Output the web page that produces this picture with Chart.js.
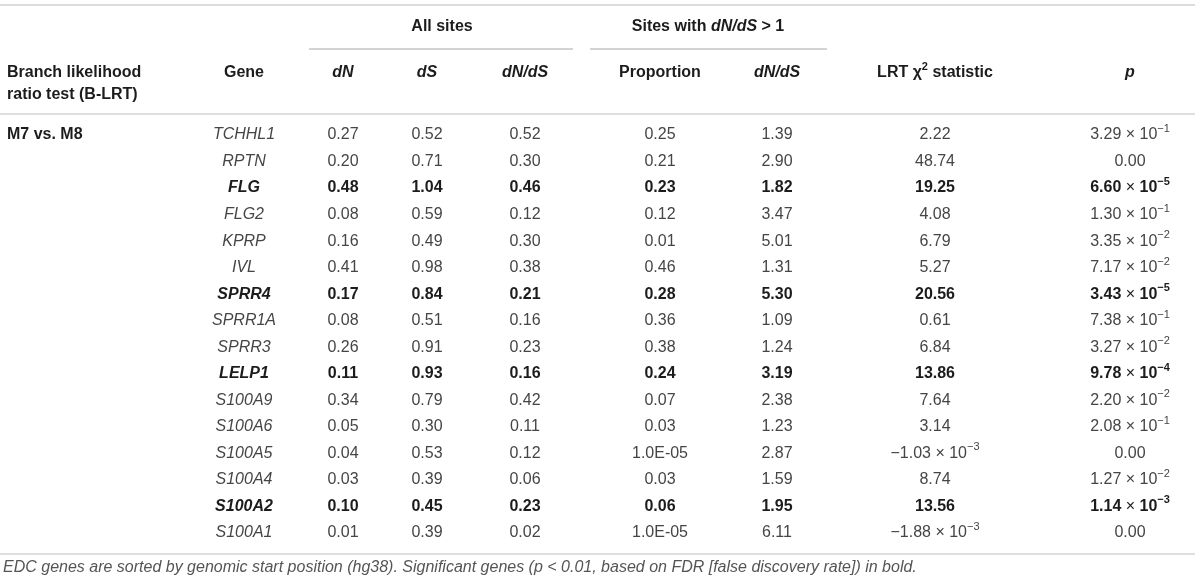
<!DOCTYPE html>
<html lang="en">
<head>
    <meta charset="UTF-8">
    <title>Branch-site test results for EDC genes</title>
    <script src="https://cdn.jsdelivr.net/npm/chart.js"></script>
    <style>
        body {
            margin: 0;
            background: #FFFFFF;
        }

        .table-container {
            width: 1200px;
            height: 586px;
            position: relative;
        }
    </style>
</head>
<body>
    <div class="table-container">
        <canvas id="tableChart"></canvas>
    </div>

    <script>
        // Table values
        const genes = ['TCHHL1', 'RPTN', 'FLG', 'FLG2', 'KPRP', 'IVL', 'SPRR4', 'SPRR1A',
            'SPRR3', 'LELP1', 'S100A9', 'S100A6', 'S100A5', 'S100A4', 'S100A2', 'S100A1'];
        const significant = ['FLG', 'SPRR4', 'LELP1', 'S100A2'];
        const dN = [0.27, 0.20, 0.48, 0.08, 0.16, 0.41, 0.17, 0.08, 0.26, 0.11, 0.34, 0.05, 0.04, 0.03, 0.10, 0.01];
        const dS = [0.52, 0.71, 1.04, 0.59, 0.49, 0.98, 0.84, 0.51, 0.91, 0.93, 0.79, 0.30, 0.53, 0.39, 0.45, 0.39];
        const dNdS = [0.52, 0.30, 0.46, 0.12, 0.30, 0.38, 0.21, 0.16, 0.23, 0.16, 0.42, 0.11, 0.12, 0.06, 0.23, 0.02];
        const proportion = [0.25, 0.21, 0.23, 0.12, 0.01, 0.46, 0.28, 0.36, 0.38, 0.24, 0.07, 0.03, 1.0e-5, 0.03, 0.06, 1.0e-5];
        const dNdSSelected = [1.39, 2.90, 1.82, 3.47, 5.01, 1.31, 5.30, 1.09, 1.24, 3.19, 2.38, 1.23, 2.87, 1.59, 1.95, 6.11];
        const lrtStatistic = [2.22, 48.74, 19.25, 4.08, 6.79, 5.27, 20.56, 0.61, 6.84, 13.86, 7.64, 3.14, -1.03e-3, 8.74, 13.56, -1.88e-3];
        const pValues = [3.29e-1, 0, 6.60e-5, 1.30e-1, 3.35e-2, 7.17e-2, 3.43e-5, 7.38e-1, 3.27e-2, 9.78e-4, 2.20e-2, 2.08e-1, 0, 1.27e-2, 1.14e-3, 0];
        const testLabel = 'M7 vs. M8';
        const footnote = 'EDC genes are sorted by genomic start position (hg38). Significant genes (p < 0.01, based on FDR [false discovery rate]) in bold.';

        // Layout: column centres on a 0-1200 x scale
        const colX = { gene: 244, dN: 343, dS: 427, dNdS: 525, prop: 660, dNdSSel: 777, lrt: 935, p: 1130 };
        const FONT = '"Liberation Sans", Arial, Helvetica, sans-serif';
        const SIZE = 16;
        const TEXT = '#454545';
        const BOLD_TEXT = '#1c1c1c';

        const font = (weight, style, size) => `${style} ${weight} ${size}px ${FONT}`;

        function sciRuns(v, bold) {
            const e = Math.floor(Math.log10(Math.abs(v)) + 1e-9);
            const m = v / Math.pow(10, e);
            const sign = m < 0 ? '\u2212' : '';
            const w = bold ? 'bold' : 'normal';
            return [
                { t: sign + Math.abs(m).toFixed(2) + ' ', w },
                { t: '\u00d7', w: 'normal' },
                { t: ' 10', w },
                { t: (e < 0 ? '\u2212' : '') + Math.abs(e), w, sup: true }
            ];
        }

        function fmtPlain(v) { return v.toFixed(2); }
        function fmtProportion(v) {
            if (v >= 0.001) return v.toFixed(2);
            const [m, e] = v.toExponential(1).split('e');
            return m + 'E-' + String(Math.abs(+e)).padStart(2, '0');
        }

        const columns = [
            { key: 'gene', values: genes, runs: (v, b) => [{ t: v, w: b ? 'bold' : 'normal', s: 'italic' }] },
            { key: 'dN', values: dN, runs: (v, b) => [{ t: fmtPlain(v), w: b ? 'bold' : 'normal' }] },
            { key: 'dS', values: dS, runs: (v, b) => [{ t: fmtPlain(v), w: b ? 'bold' : 'normal' }] },
            { key: 'dNdS', values: dNdS, runs: (v, b) => [{ t: fmtPlain(v), w: b ? 'bold' : 'normal' }] },
            { key: 'prop', values: proportion, runs: (v, b) => [{ t: fmtProportion(v), w: b ? 'bold' : 'normal' }] },
            { key: 'dNdSSel', values: dNdSSelected, runs: (v, b) => [{ t: fmtPlain(v), w: b ? 'bold' : 'normal' }] },
            { key: 'lrt', values: lrtStatistic, runs: (v, b) => Math.abs(v) < 0.01 ? sciRuns(v, b) : [{ t: fmtPlain(v), w: b ? 'bold' : 'normal' }] },
            { key: 'p', values: pValues, runs: (v, b) => v === 0 ? [{ t: '0.00', w: b ? 'bold' : 'normal' }] : sciRuns(v, b) }
        ];

        // draw a list of text runs, anchored left or centre
        function drawRuns(ctx, runs, x, y, align, color) {
            let total = 0;
            runs.forEach(r => {
                ctx.font = font(r.w || 'normal', r.s || 'normal', r.sup ? 11 : SIZE);
                r.width = ctx.measureText(r.t).width;
                total += r.width;
            });
            let cx = align === 'center' ? x - total / 2 : x;
            ctx.textAlign = 'left';
            ctx.textBaseline = 'middle';
            runs.forEach(r => {
                ctx.font = font(r.w || 'normal', r.s || 'normal', r.sup ? 11 : SIZE);
                ctx.fillStyle = r.color || color;
                ctx.fillText(r.t, cx, r.sup ? y - 6 : y);
                cx += r.width;
            });
        }

        function hLine(ctx, x1, x2, y, color, width) {
            ctx.save();
            ctx.strokeStyle = color;
            ctx.lineWidth = width;
            ctx.beginPath();
            ctx.moveTo(x1, y);
            ctx.lineTo(x2, y);
            ctx.stroke();
            ctx.restore();
        }

        const tablePlugin = {
            id: 'tableText',
            afterDraw(chart) {
                const { ctx, chartArea } = chart;
                const xs = chart.scales.x;
                const top = chartArea.top;
                const bottom = chartArea.bottom;
                const px = v => xs.getPixelForValue(v);
                ctx.save();

                // rules
                hLine(ctx, px(0), px(1195), top - 130, '#dcdcdc', 2);
                hLine(ctx, px(309), px(573), top - 86, '#a8a8a8', 1.2);
                hLine(ctx, px(590), px(827), top - 86, '#a8a8a8', 1.2);
                hLine(ctx, px(0), px(1195), top - 21, '#d4d4d4', 1.5);
                hLine(ctx, px(0), px(1195), bottom + 21, '#d4d4d4', 1.5);

                // header groups
                const B = 'bold', BI = 'italic';
                drawRuns(ctx, [{ t: 'All sites', w: B }], px(442), top - 108, 'center', BOLD_TEXT);
                drawRuns(ctx, [
                    { t: 'Sites with ', w: B },
                    { t: 'dN/dS', w: B, s: BI },
                    { t: ' > 1', w: B }
                ], px(708), top - 108, 'center', BOLD_TEXT);

                // column headers
                const hy = top - 62;
                drawRuns(ctx, [{ t: 'Branch likelihood', w: B }], px(7), hy, 'left', BOLD_TEXT);
                drawRuns(ctx, [{ t: 'ratio test (B-LRT)', w: B }], px(7), hy + 22, 'left', BOLD_TEXT);
                drawRuns(ctx, [{ t: 'Gene', w: B }], px(colX.gene), hy, 'center', BOLD_TEXT);
                drawRuns(ctx, [{ t: 'dN', w: B, s: BI }], px(colX.dN), hy, 'center', BOLD_TEXT);
                drawRuns(ctx, [{ t: 'dS', w: B, s: BI }], px(colX.dS), hy, 'center', BOLD_TEXT);
                drawRuns(ctx, [{ t: 'dN/dS', w: B, s: BI }], px(colX.dNdS), hy, 'center', BOLD_TEXT);
                drawRuns(ctx, [{ t: 'Proportion', w: B }], px(colX.prop), hy, 'center', BOLD_TEXT);
                drawRuns(ctx, [{ t: 'dN/dS', w: B, s: BI }], px(colX.dNdSSel), hy, 'center', BOLD_TEXT);
                drawRuns(ctx, [
                    { t: 'LRT \u03c7', w: B },
                    { t: '2', w: B, sup: true },
                    { t: ' statistic', w: B }
                ], px(colX.lrt), hy, 'center', BOLD_TEXT);
                drawRuns(ctx, [{ t: 'p', w: B, s: BI }], px(colX.p), hy, 'center', BOLD_TEXT);

                // body cells, placed at each dataset point
                const firstY = chart.getDatasetMeta(0).data[0].y;
                drawRuns(ctx, [{ t: testLabel, w: B }], px(7), firstY, 'left', BOLD_TEXT);
                columns.forEach((col, j) => {
                    const meta = chart.getDatasetMeta(j);
                    meta.data.forEach((pt, i) => {
                        const bold = significant.includes(genes[i]);
                        drawRuns(ctx, col.runs(col.values[i], bold), pt.x, pt.y, 'center', bold ? BOLD_TEXT : TEXT);
                    });
                });

                // footnote
                ctx.font = font('normal', 'italic', 15);
                drawRuns(ctx, [{ t: footnote, s: 'italic' }], px(3), bottom + 35, 'left', '#555555');
                ctx.restore();
            }
        };

        function initializeTable() {
            const ctx = document.getElementById('tableChart').getContext('2d');
            new Chart(ctx, {
                type: 'scatter',
                data: {
                    datasets: columns.map(col => ({
                        label: col.key,
                        data: genes.map(g => ({ x: colX[col.key], y: g })),
                        pointRadius: 0,
                        pointHoverRadius: 0
                    }))
                },
                options: {
                    responsive: true,
                    maintainAspectRatio: false,
                    animation: false,
                    layout: { padding: { top: 135, bottom: 53, left: 0, right: 0 } },
                    plugins: {
                        legend: { display: false },
                        tooltip: { enabled: false }
                    },
                    scales: {
                        x: { type: 'linear', min: 0, max: 1200, display: false },
                        y: { type: 'category', labels: genes, offset: false, display: false }
                    }
                },
                plugins: [tablePlugin]
            });
        }

        window.addEventListener('load', initializeTable);
    </script>
</body>
</html>
